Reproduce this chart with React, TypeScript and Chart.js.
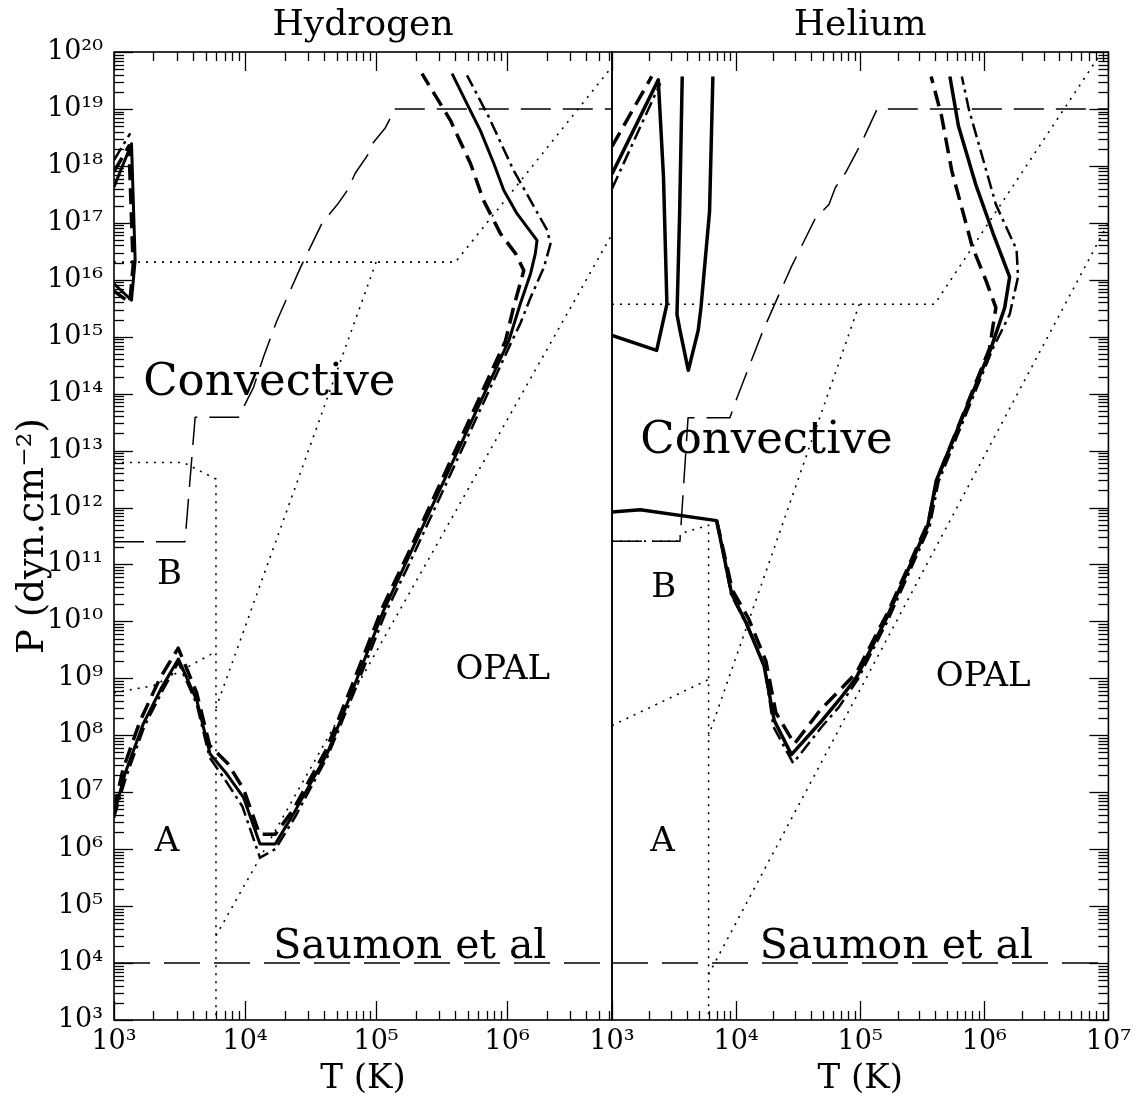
import React, { useEffect, useRef } from 'react';
import { Chart, registerables } from 'chart.js';

Chart.register(...registerables);

type Pt = [number, number];

// ---------- axes ----------
const xTicksHydrogen = [1e3, 1e4, 1e5, 1e6];
const xTicksHelium = [1e3, 1e4, 1e5, 1e6, 1e7];
const yTicks = [1e3, 1e4, 1e5, 1e6, 1e7, 1e8, 1e9, 1e10, 1e11, 1e12, 1e13, 1e14, 1e15, 1e16, 1e17, 1e18, 1e19, 1e20];
const xMin = 1e3;
const xMaxHydrogen = 6.31e6;
const xMaxHelium = 1e7;
const yMin = 1e3;
const yMax = 1e20;

// ---------- Hydrogen panel ----------
const hydrogenSolidLoop: Pt[] = [[1.0e3, 4.27e17], [1.36e3, 2.45e18], [1.45e3, 2.19e16], [1.36e3, 4.37e15], [1.0e3, 8.51e15]];
const hydrogenDashLoop: Pt[] = [[1.0e3, 7.94e17], [1.30e3, 2.24e18], [1.40e3, 1.78e16], [1.32e3, 3.98e15], [1.0e3, 6.31e15]];
const hydrogenDashDotLoop: Pt[] = [[1.0e3, 1.26e18], [1.33e3, 3.72e18]];

const hydrogenSolid: Pt[] = [
  [1.0e3, 4.0e6], [1.21e3, 2.09e7], [1.67e3, 1.58e8], [2.31e3, 6.92e8], [3.10e3, 2.19e9],
  [4.29e3, 4.07e8], [5.41e3, 4.68e7], [7.26e3, 2.09e7], [9.72e3, 8.13e6], [1.30e4, 1.23e6],
  [1.70e4, 1.23e6], [2.34e4, 4.17e6], [4.22e4, 4.68e7], [6.73e4, 6.92e8], [1.14e5, 1.55e10],
  [1.72e5, 1.17e11], [1.03e6, 8.51e14], [1.26e6, 3.80e15], [1.51e6, 1.29e16], [1.64e6, 2.88e16],
  [1.69e6, 4.90e16], [1.19e6, 1.45e17], [9.42e5, 3.72e17], [7.91e5, 1.10e18], [6.25e5, 4.17e18],
  [4.94e5, 1.23e19], [3.80e5, 4.17e19],
];
const hydrogenDash: Pt[] = [
  [1.0e3, 5.0e6], [1.17e3, 2.5e7], [1.58e3, 1.78e8], [2.24e3, 1.0e9], [3.09e3, 3.39e9],
  [4.27e3, 5.62e8], [5.37e3, 6.61e7], [7.41e3, 3.16e7], [9.77e3, 1.12e7], [1.29e4, 1.82e6],
  [1.70e4, 1.82e6], [2.34e4, 5.01e6], [4.17e4, 5.62e7], [6.61e4, 7.94e8], [1.12e5, 1.78e10],
  [1.70e5, 1.32e11], [9.72e5, 8.51e14], [1.12e6, 3.31e15], [1.34e6, 1.45e16], [1.16e6, 2.88e16],
  [8.89e5, 6.46e16], [6.62e5, 2.45e17], [5.25e5, 1.10e18], [3.69e5, 6.31e18], [2.24e5, 4.17e19],
];
const hydrogenDashDot: Pt[] = [
  [1.0e3, 3.55e6], [1.23e3, 1.78e7], [1.70e3, 1.41e8], [2.34e3, 6.03e8], [3.10e3, 1.91e9],
  [4.27e3, 3.55e8], [5.37e3, 4.07e7], [7.08e3, 1.62e7], [9.55e3, 5.62e6], [1.30e4, 7.08e5],
  [1.70e4, 1.0e6], [2.40e4, 3.63e6], [4.27e4, 4.27e7], [6.92e4, 6.31e8], [1.17e5, 1.35e10],
  [1.78e5, 1.0e11], [1.09e6, 8.51e14], [1.26e6, 1.70e15], [1.51e6, 4.90e15], [1.91e6, 1.66e16],
  [2.14e6, 4.27e16], [2.02e6, 7.41e16], [1.51e6, 2.45e17], [1.12e6, 8.32e17], [7.24e5, 7.24e18],
  [4.94e5, 3.89e19],
];
const hydrogenConvBoundary: Pt[] = [
  [1.0e3, 2.51e11], [3.48e3, 2.51e11], [4.16e3, 3.85e13], [8.91e3, 3.85e13], [1.16e4, 1.29e14],
  [1.38e4, 4.37e14], [1.75e4, 1.91e15], [2.64e4, 1.62e16], [3.88e4, 1.0e17], [5.14e4, 2.19e17],
  [6.03e4, 3.72e17], [6.93e4, 7.41e17], [8.57e4, 1.51e18], [9.53e4, 2.57e18], [1.17e5, 4.57e18],
  [1.29e5, 7.08e18], [1.35e5, 1.0e19], [6.31e6, 1.0e19],
];
const hydrogenSaumon: Pt[] = [[1.0e3, 1.0e4], [6.31e6, 1.0e4]];
const hydrogenDot0: Pt[] = [[1.0e3, 6.17e12], [3.39e3, 6.17e12], [6.0e3, 3.16e12], [6.0e3, 1.0e3]];
const hydrogenDot1: Pt[] = [[1.0e3, 2.04e16], [4.03e5, 2.04e16], [6.31e6, 5.50e19]];
const hydrogenDot2: Pt[] = [[1.0e5, 2.04e16], [6.0e3, 3.02e8]];
const hydrogenDot3: Pt[] = [[1.0e3, 5.62e8], [2.0e3, 7.41e8], [6.0e3, 2.95e9]];
const hydrogenDot4: Pt[] = [[6.0e3, 3.02e4], [6.31e6, 6.31e16]];

// ---------- Helium panel ----------
const heliumSolidLoop: Pt[] = [[1.0e3, 7.24e17], [2.36e3, 3.24e19], [2.60e3, 6.31e17], [2.77e3, 3.72e15], [2.29e3, 5.75e14], [1.0e3, 1.05e15]];
const heliumDashLoop: Pt[] = [[1.0e3, 2.19e18], [2.09e3, 3.72e19]];
const heliumDashDotLoop: Pt[] = [[1.0e3, 3.98e17], [2.45e3, 2.82e19]];
const heliumU: Pt[] = [
  [3.68e3, 3.72e19], [3.51e3, 1.58e17], [3.34e3, 2.45e15], [3.53e3, 1.29e15], [4.12e3, 2.57e14],
  [4.95e3, 1.29e15], [5.21e3, 3.24e15], [6.11e3, 1.58e17], [6.50e3, 3.72e19],
];
const heliumSolid: Pt[] = [
  [1.0e3, 8.32e11], [1.69e3, 9.12e11], [6.97e3, 5.89e11], [9.20e3, 3.09e10], [1.22e4, 8.91e9],
  [1.68e4, 1.66e9], [2.03e4, 1.82e8], [2.79e4, 4.57e7], [4.93e4, 1.82e8], [6.76e4, 4.17e8],
  [9.27e4, 1.02e9], [1.64e5, 1.17e10], [3.51e5, 4.90e11], [4.10e5, 2.95e12], [1.13e6, 6.17e14],
  [1.46e6, 3.24e15], [1.60e6, 1.12e16], [1.17e6, 6.76e16], [8.51e5, 4.79e17], [6.19e5, 5.01e18],
  [5.28e5, 3.72e19],
];
const heliumDash: Pt[] = [
  [6.97e3, 5.89e11], [9.33e3, 3.55e10], [1.26e4, 1.12e10], [1.74e4, 2.0e9], [2.09e4, 2.51e8],
  [2.95e4, 7.08e7], [4.79e4, 2.82e8], [6.76e4, 6.03e8], [9.33e4, 1.26e9], [1.66e5, 1.41e10],
  [3.55e5, 5.62e11], [4.17e5, 3.16e12], [1.10e6, 6.17e14], [1.24e6, 3.24e15], [1.03e6, 9.77e15],
  [7.98e5, 3.89e16], [5.46e5, 8.32e17], [4.52e5, 7.59e18], [3.73e5, 3.72e19],
];
const heliumDashDot: Pt[] = [
  [6.97e3, 5.89e11], [9.12e3, 2.95e10], [1.22e4, 8.51e9], [1.70e4, 1.58e9], [2.0e4, 1.41e8],
  [2.88e4, 3.24e7], [4.90e4, 1.41e8], [6.76e4, 3.16e8], [9.55e4, 9.55e8], [1.70e5, 1.12e10],
  [3.63e5, 4.68e11], [4.27e5, 2.82e12], [1.17e6, 6.17e14], [1.60e6, 2.45e15], [1.87e6, 1.12e16],
  [1.82e6, 3.39e16], [1.24e6, 2.09e17], [7.50e5, 1.0e19], [6.59e5, 3.72e19],
];
const heliumConvBoundary: Pt[] = [
  [1.0e3, 2.57e11], [3.53e3, 2.57e11], [4.10e3, 3.76e13], [8.91e3, 3.76e13], [1.01e4, 8.13e13],
  [1.65e4, 1.29e15], [2.79e4, 1.70e16], [4.35e4, 1.20e17], [5.60e4, 2.09e17], [6.31e4, 4.17e17],
  [7.67e4, 7.76e17], [1.02e5, 2.51e18], [1.37e5, 1.0e19], [1.0e7, 1.0e19],
];
const heliumSaumon: Pt[] = [[1.0e3, 1.0e4], [1.0e7, 1.0e4]];
const heliumDot0: Pt[] = [[1.0e3, 2.57e11], [3.53e3, 2.57e11], [3.55e3, 3.47e11], [6.0e3, 4.90e11], [6.0e3, 1.0e3]];
const heliumDot1: Pt[] = [[1.0e3, 3.72e15], [3.98e5, 3.72e15], [8.85e6, 1.0e20]];
const heliumDot2: Pt[] = [[9.84e4, 3.72e15], [6.0e3, 9.77e7]];
const heliumDot3: Pt[] = [[1.0e3, 1.48e8], [6.0e3, 9.55e8]];
const heliumDot4: Pt[] = [[6.0e3, 6.31e3], [1.0e7, 1.0e17]];

// ---------- annotations (text anchors in data units) ----------
const hydrogenNotes = [
  { text: 'Convective', T: 1.67e3, P: 9.3e13, size: 45 },
  { text: 'B', T: 2.13e3, P: 4.6e10, size: 34 },
  { text: 'A', T: 2.05e3, P: 9.3e5, size: 34 },
  { text: 'OPAL', T: 4.03e5, P: 9.8e8, size: 34 },
  { text: 'Saumon et al', T: 1.64e4, P: 1.23e4, size: 41 },
];
const heliumNotes = [
  { text: 'Convective', T: 1.69e3, P: 9.2e12, size: 45 },
  { text: 'B', T: 2.07e3, P: 2.7e10, size: 34 },
  { text: 'A', T: 2.03e3, P: 9.3e5, size: 34 },
  { text: 'OPAL', T: 4.07e5, P: 7.4e8, size: 34 },
  { text: 'Saumon et al', T: 1.55e4, P: 1.23e4, size: 41 },
];

const FONT = '"DejaVu Serif", "Liberation Serif", serif';
const SUP = '⁰¹²³⁴⁵⁶⁷⁸⁹';
function powLabel(v: number): string {
  const l = Math.log10(v);
  const e = Math.round(l);
  if (Math.abs(l - e) > 1e-6) return '';
  return '10' + String(e).split('').map((d) => SUP[Number(d)]).join('');
}

const STYLES: Record<string, { borderWidth: number; borderDash: number[] }> = {
  solid: { borderWidth: 3, borderDash: [] },
  heavy: { borderWidth: 3.5, borderDash: [] },
  dash: { borderWidth: 3.5, borderDash: [16, 8] },
  dashdot: { borderWidth: 2.5, borderDash: [14, 5, 3, 5] },
  bound: { borderWidth: 1.5, borderDash: [30, 12] },
  saumon: { borderWidth: 1.5, borderDash: [36, 14] },
  dot: { borderWidth: 1.6, borderDash: [2, 6] },
};

function ds(label: string, pts: Pt[], style: string) {
  return {
    label,
    data: pts.map(([x, y]) => ({ x, y })),
    borderColor: '#000',
    backgroundColor: '#000',
    pointRadius: 0,
    fill: false,
    tension: 0,
    borderJoinStyle: 'round' as const,
    ...STYLES[style],
  };
}

type PanelDef = {
  title: string;
  xMax: number;
  xTicks: number[];
  notes: { text: string; T: number; P: number; size: number }[];
  datasets: any[];
  showY: boolean;
  sides: { left: boolean; right: boolean };
  canvasLeft: number;
  canvasWidth: number;
  padding: { left: number; right: number };
};

function makeDecor(def: PanelDef) {
  return {
    id: 'decor',
    afterDatasetsDraw(chart: any) {
      const { ctx, chartArea: a, scales } = chart;
      const xs = scales.x;
      const ys = scales.y;
      ctx.save();
      ctx.strokeStyle = '#000';
      ctx.fillStyle = '#000';
      ctx.setLineDash([]);
      ctx.lineWidth = 1.6;
      ctx.strokeRect(a.left, a.top, a.right - a.left, a.bottom - a.top);
      ctx.lineWidth = 1.3;
      const seg = (x1: number, y1: number, x2: number, y2: number) => {
        ctx.beginPath();
        ctx.moveTo(x1, y1);
        ctx.lineTo(x2, y2);
        ctx.stroke();
      };
      const marks = (min: number, max: number) => {
        const out: { v: number; major: boolean }[] = [];
        for (let e = Math.floor(Math.log10(min)); e <= Math.ceil(Math.log10(max)); e++) {
          for (let k = 1; k < 10; k++) {
            const v = k * Math.pow(10, e);
            if (v >= min * 0.9999 && v <= max * 1.0001) out.push({ v, major: k === 1 });
          }
        }
        return out;
      };
      for (const t of marks(xs.min, xs.max)) {
        const px = Math.round(xs.getPixelForValue(t.v)) + 0.5;
        const L = t.major ? 19 : 9;
        seg(px, a.bottom, px, a.bottom - L);
        seg(px, a.top, px, a.top + L);
      }
      for (const t of marks(ys.min, ys.max)) {
        const py = Math.round(ys.getPixelForValue(t.v)) + 0.5;
        const L = t.major ? 19 : 10;
        if (def.sides.left) seg(a.left, py, a.left + L, py);
        if (def.sides.right) seg(a.right, py, a.right - L, py);
      }
      ctx.textBaseline = 'alphabetic';
      ctx.textAlign = 'left';
      for (const n of def.notes) {
        ctx.font = `${n.size}px ${FONT}`;
        ctx.fillText(n.text, xs.getPixelForValue(n.T), ys.getPixelForValue(n.P));
      }
      ctx.textAlign = 'center';
      ctx.font = `36px ${FONT}`;
      ctx.fillText(def.title, (a.left + a.right) / 2, 35);
      ctx.font = `34px ${FONT}`;
      ctx.fillText('T (K)', (a.left + a.right) / 2, 1088);
      if (def.showY) {
        ctx.save();
        ctx.translate(43, (a.top + a.bottom) / 2);
        ctx.rotate(-Math.PI / 2);
        ctx.font = `37px ${FONT}`;
        ctx.textAlign = 'center';
        ctx.fillText('P (dyn.cm⁻²)', 0, 0);
        ctx.restore();
      }
      ctx.restore();
    },
  };
}

function buildConfig(def: PanelDef): any {
  return {
    type: 'line',
    data: { datasets: def.datasets },
    plugins: [makeDecor(def)],
    options: {
      animation: false,
      responsive: false,
      devicePixelRatio: 1,
      layout: { padding: { top: 52, bottom: 0, left: def.padding.left, right: def.padding.right } },
      plugins: { legend: { display: false }, tooltip: { enabled: false }, title: { display: false } },
      scales: {
        x: {
          type: 'logarithmic',
          min: xMin,
          max: def.xMax,
          bounds: 'data',
          afterFit: (s: any) => { s.height = 76; },
          afterBuildTicks: (s: any) => { s.ticks = def.xTicks.map((v) => ({ value: v })); },
          grid: { display: false, drawTicks: false },
          border: { display: false },
          ticks: {
            callback: (v: any) => powLabel(Number(v)),
            font: { family: FONT, size: 27 },
            color: '#000',
            padding: 6,
            autoSkip: false,
            maxRotation: 0,
            minRotation: 0,
          },
        },
        y: {
          type: 'logarithmic',
          display: def.showY,
          min: yMin,
          max: yMax,
          bounds: 'data',
          afterFit: (s: any) => { s.width = def.showY ? 114 : 0; },
          afterBuildTicks: (s: any) => { s.ticks = yTicks.map((v) => ({ value: v })); },
          grid: { display: false, drawTicks: false },
          border: { display: false },
          ticks: {
            callback: (v: any) => powLabel(Number(v)),
            font: { family: FONT, size: 27 },
            color: '#000',
            padding: 11,
            autoSkip: false,
          },
        },
      },
    },
  };
}

const hydrogenDef: PanelDef = {
  title: 'Hydrogen',
  xMax: xMaxHydrogen,
  xTicks: xTicksHydrogen,
  notes: hydrogenNotes,
  showY: true,
  sides: { left: true, right: false },
  canvasLeft: 0,
  canvasWidth: 640,
  padding: { left: 0, right: 28 },
  datasets: [
    ds('Saumon et al', hydrogenSaumon, 'saumon'),
    ds('convective boundary', hydrogenConvBoundary, 'bound'),
    ds('dot0', hydrogenDot0, 'dot'),
    ds('dot1', hydrogenDot1, 'dot'),
    ds('dot2', hydrogenDot2, 'dot'),
    ds('dot3', hydrogenDot3, 'dot'),
    ds('dot4', hydrogenDot4, 'dot'),
    ds('solid loop', hydrogenSolidLoop, 'solid'),
    ds('dash loop', hydrogenDashLoop, 'dash'),
    ds('dashdot loop', hydrogenDashDotLoop, 'dashdot'),
    ds('solid', hydrogenSolid, 'solid'),
    ds('dash', hydrogenDash, 'dash'),
    ds('dashdot', hydrogenDashDot, 'dashdot'),
  ],
};

const heliumDef: PanelDef = {
  title: 'Helium',
  xMax: xMaxHelium,
  xTicks: xTicksHelium,
  notes: heliumNotes,
  showY: false,
  sides: { left: false, right: true },
  canvasLeft: 580,
  canvasWidth: 557,
  padding: { left: 32, right: 27 },
  datasets: [
    ds('Saumon et al', heliumSaumon, 'saumon'),
    ds('convective boundary', heliumConvBoundary, 'bound'),
    ds('dot0', heliumDot0, 'dot'),
    ds('dot1', heliumDot1, 'dot'),
    ds('dot2', heliumDot2, 'dot'),
    ds('dot3', heliumDot3, 'dot'),
    ds('dot4', heliumDot4, 'dot'),
    ds('solid loop', heliumSolidLoop, 'heavy'),
    ds('dash loop', heliumDashLoop, 'dash'),
    ds('dashdot loop', heliumDashDotLoop, 'dashdot'),
    ds('U', heliumU, 'heavy'),
    ds('solid', heliumSolid, 'heavy'),
    ds('dash', heliumDash, 'dash'),
    ds('dashdot', heliumDashDot, 'dashdot'),
  ],
};

function Panel({ def }: { def: PanelDef }) {
  const ref = useRef<HTMLCanvasElement | null>(null);
  useEffect(() => {
    if (!ref.current) return;
    const chart = new Chart(ref.current, buildConfig(def));
    return () => chart.destroy();
  }, [def]);
  return (
    <canvas
      ref={ref}
      width={def.canvasWidth}
      height={1096}
      style={{ position: 'absolute', left: def.canvasLeft, top: 0, width: def.canvasWidth, height: 1096 }}
    />
  );
}

export default function App() {
  return (
    <div style={{ position: 'absolute', left: 0, top: 0, width: 1137, height: 1096, background: '#fff', overflow: 'hidden' }}>
      <Panel def={hydrogenDef} />
      <Panel def={heliumDef} />
    </div>
  );
}
